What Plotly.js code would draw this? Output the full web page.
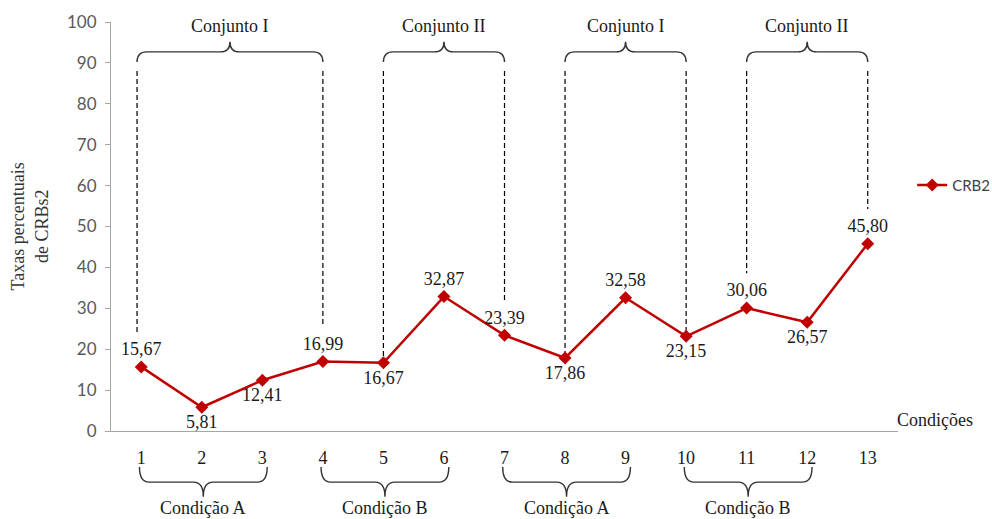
<!DOCTYPE html>
<html>
<head>
<meta charset="utf-8">
<script src="https://cdn.plot.ly/plotly-3.0.1.min.js"></script>
<style>
  html, body { margin: 0; padding: 0; background: #ffffff; }
  #chart { width: 992px; height: 519px; }
</style>
</head>
<body>
<div id="chart"></div>
<script>
// Condições 1..13 and the CRB2 percentage for each
const categories = [1, 2, 3, 4, 5, 6, 7, 8, 9, 10, 11, 12, 13];
const crb2Values = [15.67, 5.81, 12.41, 16.99, 16.67, 32.87, 23.39, 17.86, 32.58, 23.15, 30.06, 26.57, 45.80];
const labelSide = ['top', 'bottom', 'bottom', 'top', 'bottom', 'top', 'top', 'bottom', 'top', 'bottom', 'top', 'bottom', 'top'];

// Groupings shown with braces above (conjuntos) and below (condições)
const conjuntoLabels = ['Conjunto I', 'Conjunto II', 'Conjunto I', 'Conjunto II'];
const conjuntoStart = [1, 5, 8, 11];
const conjuntoEnd = [4, 7, 10, 13];
const condicaoLabels = ['Condição A', 'Condição B', 'Condição A', 'Condição B'];
const condicaoStart = [1, 4, 7, 10];
const condicaoEnd = [3, 6, 9, 12];

const RED = '#c00000';
const SERIF = '"Liberation Serif", "Times New Roman", serif';
const SANS = 'Lato, "Liberation Sans", sans-serif';
const INK = '#1a1a1a';

const fmt = v => v.toFixed(2).replace('.', ',');

const trace = {
  type: 'scatter',
  mode: 'lines+markers+text',
  name: 'CRB2',
  x: categories,
  y: crb2Values,
  text: crb2Values.map(fmt),
  textposition: labelSide.map(s => s + ' center'),
  textfont: { family: SERIF, size: 18, color: INK },
  line: { color: RED, width: 2.5 },
  marker: { symbol: 'diamond', size: 10, color: RED },
  cliponaxis: false,
  hoverinfo: 'skip'
};

// Curly brace path; xs in data units, ys in the given reference frame
function bracePath(x0, x1, yEdge, yBar, yTip, r) {
  const xm = (x0 + x1) / 2;
  return 'M ' + x0 + ',' + yEdge +
    ' Q ' + x0 + ',' + yBar + ' ' + (x0 + r) + ',' + yBar +
    ' L ' + (xm - r) + ',' + yBar +
    ' Q ' + xm + ',' + yBar + ' ' + xm + ',' + yTip +
    ' Q ' + xm + ',' + yBar + ' ' + (xm + r) + ',' + yBar +
    ' L ' + (x1 - r) + ',' + yBar +
    ' Q ' + x1 + ',' + yBar + ' ' + x1 + ',' + yEdge;
}

const shapes = [];
const annotations = [];
const braceLine = { color: '#333333', width: 1.4 };
const dashLine = { color: '#000000', width: 1.2, dash: '5px,3px' };

// Top braces with dashed drop lines to the bounding points
conjuntoLabels.forEach((lab, i) => {
  const a = conjuntoStart[i], b = conjuntoEnd[i];
  const x0 = i === 0 ? a - 0.07 : a;
  shapes.push({
    type: 'path', xref: 'x', yref: 'y', layer: 'above',
    path: bracePath(x0, b, 90.2, 92.7, 95.2, 0.16),
    line: braceLine
  });
  [[a, x0], [b, b]].forEach(([idx, xp]) => {
    const k = categories.indexOf(idx);
    const v = crb2Values[k];
    const yEnd = labelSide[k] === 'top' ? v + 8.5 : v;
    shapes.push({
      type: 'line', xref: 'x', yref: 'y', layer: 'below',
      x0: xp, x1: xp, y0: 88, y1: yEnd,
      line: dashLine
    });
  });
  annotations.push({
    text: lab, xref: 'x', yref: 'y', x: (x0 + b) / 2, y: 99,
    xanchor: 'center', yanchor: 'middle', showarrow: false,
    font: { family: SERIF, size: 18, color: INK }
  });
});

// Bottom braces grouping the condições
condicaoLabels.forEach((lab, i) => {
  const a = condicaoStart[i] - 0.03, b = condicaoEnd[i] + 0.08;
  shapes.push({
    type: 'path', xref: 'x', yref: 'paper', layer: 'above',
    path: bracePath(a, b, -0.088, -0.125, -0.161, 0.16),
    line: braceLine
  });
  annotations.push({
    text: lab, xref: 'x', yref: 'paper', x: (a + b) / 2, y: -0.188,
    xanchor: 'center', yanchor: 'middle', showarrow: false,
    font: { family: SERIF, size: 18, color: INK }
  });
});

// Axis captions
annotations.push({
  text: 'Condições', xref: 'paper', yref: 'paper', x: 1, y: 0.027,
  xanchor: 'left', yanchor: 'middle', showarrow: false, xshift: -3,
  font: { family: SERIF, size: 18, color: INK }
});
annotations.push({
  text: 'Taxas percentuais<br>de CRBs2', xref: 'paper', yref: 'paper',
  x: -0.103, y: 0.5, xanchor: 'center', yanchor: 'middle',
  textangle: -90, showarrow: false,
  font: { family: SERIF, size: 18, color: '#333333' }
});

const layout = {
  width: 992,
  height: 519,
  margin: { l: 111, r: 94, t: 22, b: 88, autoexpand: false },
  paper_bgcolor: '#ffffff',
  plot_bgcolor: '#ffffff',
  showlegend: true,
  legend: {
    x: 1.018, y: 0.601, xanchor: 'left', yanchor: 'middle',
    font: { family: SANS, size: 15, color: '#404040' },
    bgcolor: 'rgba(0,0,0,0)'
  },
  xaxis: {
    type: 'linear',
    range: [0.5, 13.5],
    tickvals: categories,
    ticktext: categories.map(String),
    showgrid: false,
    zeroline: false,
    showline: true,
    linecolor: '#a6a6a6',
    linewidth: 1,
    ticks: '',
    ticklabelstandoff: 10,
    tickfont: { family: SERIF, size: 18, color: INK },
    fixedrange: true
  },
  yaxis: {
    range: [0, 100],
    tickvals: [0, 10, 20, 30, 40, 50, 60, 70, 80, 90, 100],
    showgrid: false,
    zeroline: false,
    showline: true,
    linecolor: '#a6a6a6',
    linewidth: 1,
    ticks: 'outside',
    ticklen: 5,
    tickcolor: '#a6a6a6',
    ticklabelstandoff: 5,
    tickfont: { family: SANS, size: 17, color: '#595959' },
    fixedrange: true
  },
  shapes: shapes,
  annotations: annotations
};

Plotly.newPlot('chart', [trace], layout, { displayModeBar: false, staticPlot: true });
</script>
</body>
</html>
